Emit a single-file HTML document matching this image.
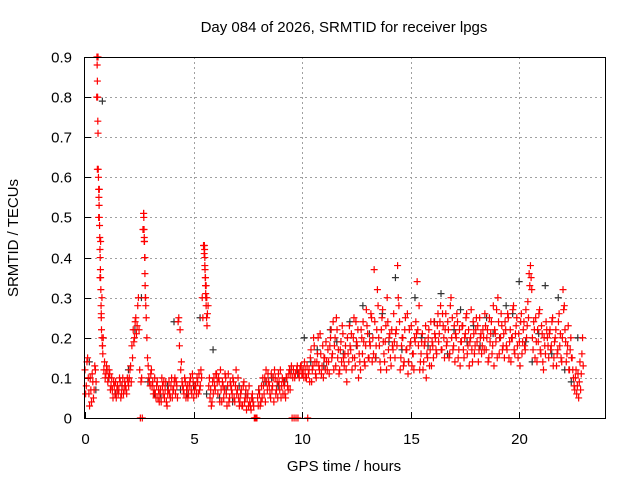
<!DOCTYPE html>
<html><head><meta charset="utf-8"><style>
html,body{margin:0;padding:0;background:#fff;}
svg{display:block;font-family:"Liberation Sans",sans-serif;}
</style></head><body>
<svg id="chart" width="640" height="480">
<text x="344" y="32" text-anchor="middle" font-size="15">Day 084 of 2026, SRMTID for receiver lpgs</text>
<text x="344" y="471" text-anchor="middle" font-size="15">GPS time / hours</text>
<text transform="translate(18,238) rotate(-90)" text-anchor="middle" font-size="15">SRMTID / TECUs</text>
<g id="grid"></g><g id="ticks"></g><g id="marks"></g>
<rect x="84.5" y="57.5" width="521" height="361" fill="none" stroke="#000"/>
</svg>
<script>
const xTicks=[0,5,10,15,20];
const yTicks=[0,0.1,0.2,0.3,0.4,0.5,0.6,0.7,0.8,0.9];
const redStart=0, redStep=0.06;
const redVals=[12,8,15,6,10,4,9,7,12,80,90,57,44,30,20,14,11,
12,10,11,8,7,9,6,5,8,7,9,6,10,7,8,6,9,
10,13,18,22,20,25,23,30,12,9,0,51,40,25,15,10,8,
12,9,7,6,8,5,4,7,10,6,5,9,3,7,6,8,5,
7,10,9,5,25,22,14,8,6,9,7,5,8,10,6,9,7,
8,10,6,7,12,30,43,38,33,26,8,5,3,9,10,7,11,
6,9,12,4,8,7,10,3,11,5,8,6,9,4,12,7,5,
4,7,3,9,5,2,6,8,3,5,4,0,0,0,3,6,4,
5,8,10,12,7,9,6,11,8,4,10,7,5,9,12,8,6,
8,5,10,7,12,11,0,12,10,0,13,11,12,13,11,10,12,
10,0,12,15,9,13,18,11,14,20,12,16,13,10,15,19,12,
14,18,22,16,12,20,25,15,11,17,14,21,13,18,9,16,23,
17,12,20,15,24,18,10,14,22,16,19,13,27,21,15,18,25,
20,37,15,22,28,18,12,25,19,14,23,30,17,21,13,18,26,
15,22,38,28,12,18,20,14,25,17,11,22,19,13,16,20,24,
34,18,12,16,21,14,19,10,15,22,17,13,18,24,20,16,26,
21,28,17,23,15,26,19,22,16,30,25,18,14,20,24,17,13,
19,23,15,21,26,18,13,20,17,24,16,22,19,14,25,21,18,
20,26,17,22,15,19,24,18,13,21,27,30,16,20,23,18,15,
22,17,25,19,14,20,28,16,23,18,21,13,26,19,24,17,20,
29,36,38,32,17,22,25,14,19,27,16,21,12,18,24,20,15,
22,18,25,15,20,13,17,26,21,14,32,28,19,16,23,12,20,
15,10,7,12,8,5,14,11,20];
const red2Start=0.03, red2Step=0.06;
const red2Vals=[6,14,10,3,7,11,5,13,9,62,50,35,26,18,12,10,13,
9,12,7,10,5,8,9,7,6,10,5,8,6,9,7,10,8,
12,9,15,19,24,21,28,22,0,10,47,44,30,20,13,9,11,
8,6,10,5,9,7,6,4,8,9,7,4,6,9,5,10,7,
9,6,8,24,18,12,9,7,10,5,8,6,9,7,11,5,8,
6,9,11,8,10,25,41,35,30,28,10,7,4,6,8,11,9,
10,4,7,9,5,11,6,8,4,9,7,10,5,8,6,10,3,
6,3,8,4,7,5,3,4,2,6,3,0,0,5,7,3,8,
10,6,4,9,11,8,5,7,10,12,6,9,11,7,5,10,9,
6,10,8,11,7,13,10,0,11,12,0,10,13,11,12,14,10,
13,11,9,17,12,20,14,10,16,13,21,11,18,15,12,14,17,
11,20,15,24,18,13,22,17,12,19,23,15,16,12,20,14,18,
21,15,25,13,19,22,16,12,20,24,14,18,23,15,19,26,14,
16,24,18,32,20,14,22,27,16,19,12,24,20,15,22,17,19,
21,18,30,24,15,20,13,22,17,26,14,18,23,16,12,19,21,
22,28,14,19,12,18,23,16,20,13,24,19,15,21,17,23,19,
24,17,26,20,22,18,24,15,28,20,17,23,21,26,15,22,19,
23,17,20,25,16,22,19,27,14,21,18,25,23,17,20,16,22,
17,23,20,14,25,21,16,28,22,19,15,24,20,26,17,21,24,
18,26,15,22,20,27,17,21,25,15,19,24,16,22,18,27,23,
25,33,35,20,24,15,19,22,26,17,23,14,20,16,22,18,21,
17,24,13,19,22,16,24,18,15,20,27,22,14,18,12,17,15,
12,8,10,6,11,9,7,16,13];
const extraT=[0.55,0.56,0.57,0.58,0.59,0.6,0.61,0.62,0.63,0.64,0.65,0.66,0.67,0.68,0.69,0.7,0.71,0.72,0.73,0.74,0.75,0.76,0.78,0.8,0.82,
2.7,2.71,2.72,2.73,2.74,2.75,2.76,2.77,2.78,2.8,
5.5,5.51,5.52,5.53,5.54,5.55,5.56,5.57,5.58,5.6,5.62];
const extraV=[0.9,0.88,0.84,0.8,0.74,0.71,0.62,0.6,0.57,0.55,0.53,0.5,0.48,0.45,0.42,0.4,0.37,0.35,0.32,0.28,0.25,0.22,0.2,0.18,0.16,
0.51,0.5,0.47,0.45,0.44,0.4,0.36,0.33,0.3,0.28,
0.43,0.42,0.4,0.37,0.35,0.33,0.31,0.3,0.28,0.25,0.23];
const blackStart=0.2, blackStep=0.3;
const blackVals=[14,7,79,10,6,8,12,22,30,9,6,5,8,24,7,6,8,25,6,17,5,7,4,8,6,5,7,9,10,8,9,12,11,20,14,17,13,22,19,16,24,18,28,21,15,26,19,35,17,14,30,20,18,24,31,16,22,27,19,23,18,25,21,20,28,26,34,19,14,21,33,16,30,12,9,20];
const X=t=>85+t*(521/24), Y=v=>418-v*(361/0.9);
const ns="http://www.w3.org/2000/svg";
const grid=document.getElementById('grid'),ticks=document.getElementById('ticks'),marks=document.getElementById('marks');
function mk(tag,attrs,parent){const e=document.createElementNS(ns,tag);for(const k in attrs)e.setAttribute(k,attrs[k]);parent.appendChild(e);return e;}
xTicks.forEach(t=>{const x=Math.round(X(t))+0.5;
 if(t>0){const l=mk('line',{x1:x,x2:x,y1:57,y2:418,stroke:'#a0a0a0','stroke-dasharray':'2,3'},grid);
 
 }
 mk('line',{x1:x,x2:x,y1:418,y2:412,stroke:'#000'},ticks);
 const tx=mk('text',{x:x,y:444,'text-anchor':'middle','font-size':15},ticks);tx.textContent=t;
 
 });
yTicks.forEach(v=>{const y=Math.round(Y(v))+0.5;
 if(v>0&&v<0.9){const l=mk('line',{x1:85,x2:605,y1:y,y2:y,stroke:'#a0a0a0','stroke-dasharray':'2,3'},grid);
 
 }
 mk('line',{x1:85,x2:91,y1:y,y2:y,stroke:'#000'},ticks);
 const tx=mk('text',{x:72,y:y+5,'text-anchor':'end','font-size':15},ticks);tx.textContent=(v===0?'0':v.toFixed(1));
 
 });
function plus(t,v,c,name){const x=X(t),y=Y(v);
 const p=mk('path',{d:`M${x-3.5},${y}h7M${x},${y-3.5}v7`,stroke:c,'stroke-width':1.2,fill:'none'},marks);
 
 }
blackVals.forEach((v,i)=>plus(blackStart+i*blackStep,v/100,'#333','black-point'));
redVals.forEach((v,i)=>plus(redStart+i*redStep,v/100,'#f00','red-point'));
red2Vals.forEach((v,i)=>plus(red2Start+i*red2Step,v/100,'#f00','red-point'));
extraT.forEach((t,i)=>plus(t,extraV[i],'#f00','red-point'));
</script>
</body></html>
